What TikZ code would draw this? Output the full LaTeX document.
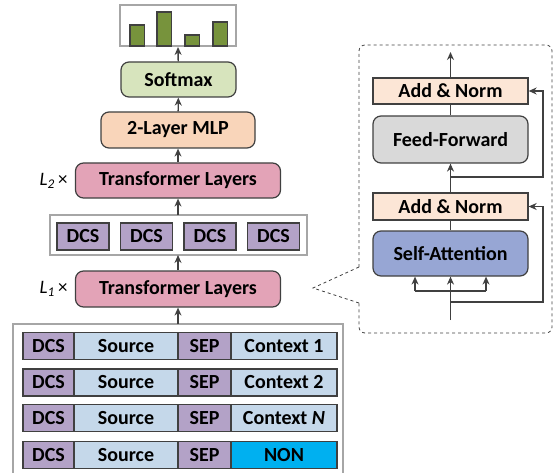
\documentclass[tikz,border=0pt]{standalone}
\usepackage{fontspec}
\setmainfont{Carlito}
\usetikzlibrary{positioning,arrows.meta}

\definecolor{edgegray}{HTML}{404040}
\definecolor{boxgray}{HTML}{A6A6A6}
\definecolor{barolive}{HTML}{77933C}
\definecolor{softgreen}{HTML}{D7E4BD}
\definecolor{mlporange}{HTML}{F9D5BA}
\definecolor{tlpink}{HTML}{E3A3B7}
\definecolor{tokpurple}{HTML}{B3A2C7}
\definecolor{tokblue}{HTML}{C5D8EA}
\definecolor{nonblue}{HTML}{00B0F0}
\definecolor{normpeach}{HTML}{FCE6D6}
\definecolor{ffgray}{HTML}{D9D9D9}
\definecolor{sablue}{HTML}{97A6D4}

\tikzset{
  bigfont/.style={font=\bfseries\fontsize{20}{23}\selectfont},
  layer/.style={draw=edgegray, line width=1.2pt, rounded corners=8pt, inner sep=0pt, bigfont},
  tok/.style={draw=edgegray, line width=1.3pt, inner sep=0pt, minimum height=27pt, bigfont},
  grp/.style={draw=boxgray, line width=1.5pt},
  up/.style={draw=edgegray, line width=1.4pt, -{Stealth[length=8pt,width=7pt]}},
  wire/.style={draw=edgegray, line width=1.4pt}
}

\begin{document}
\begin{tikzpicture}[x=1pt, y=-1pt]
    \useasboundingbox (0,0) rectangle (556,473);

    % output distribution
    \draw[grp] (120,5) rectangle (236,46);
    \foreach \bx/\by in {130/25, 157/12, 185/35, 213/22}
        \draw[draw=edgegray, line width=1.2pt, fill=barolive] (\bx,\by) rectangle ({\bx+14.5},46);
    \coordinate (bars) at (178,47);

    % main stack
    \node[layer, fill=softgreen, minimum width=115pt, minimum height=35pt] (softmax) at (178.5,79.5) {Softmax};
    \node[layer, fill=mlporange, minimum width=154pt, minimum height=36pt] (mlp) at (178,130) {2-Layer MLP};
    \node[layer, fill=tlpink, minimum width=205pt, minimum height=35pt] (tltwo) at (178,180.5) {Transformer Layers};
    \node[anchor=east, font=\fontsize{19}{21}\selectfont] at (71,181) {\textit{L}\textsubscript{\textit{2}}\,×};

    \draw[grp] (50,215) rectangle (307,255);
    \coordinate (dcsgroup) at (178,215);
    \coordinate (dcsbottom) at (178,255);
    \foreach \cx/\nm in {83/a, 146.5/b, 210/c, 273.5/d}
        \node[tok, fill=tokpurple, minimum width=52pt] (dcs\nm) at (\cx,236.5) {DCS};

    \node[layer, fill=tlpink, minimum width=205pt, minimum height=36pt] (tlone) at (178,289) {Transformer Layers};
    \node[anchor=east, font=\fontsize{19}{21}\selectfont] at (71,289) {\textit{L}\textsubscript{\textit{1}}\,×};

    % input sequences
    \draw[grp] (13,324) rectangle (343,490);
    \coordinate (inputs) at (178,324);
    \foreach \ry/\ctx/\ccol/\nm in {346/{Context 1}/tokblue/one, 382.5/{Context 2}/tokblue/two,
                                    418/{Context \textit{N}}/tokblue/three, 455/{NON}/nonblue/four} {
        \node[tok, fill=tokpurple, minimum width=51pt] (dcs\nm) at (48.5,\ry) {DCS};
        \node[tok, fill=tokblue, minimum width=104pt] (src\nm) at (126,\ry) {Source};
        \node[tok, fill=tokpurple, minimum width=53pt] (sep\nm) at (204.5,\ry) {SEP};
        \node[tok, fill=\ccol, minimum width=106pt] (ctx\nm) at (284,\ry) {\ctx};
    }

    \draw[up] (softmax) -- (bars);
    \draw[up] (mlp) -- (softmax);
    \draw[up] (tltwo) -- (mlp);
    \draw[up] (dcsgroup) -- (tltwo);
    \draw[up] (tlone) -- (dcsbottom);
    \draw[up] (inputs) -- (tlone);

    % zoomed transformer layer
    \draw[edgegray, line width=0.8pt, dashed, rounded corners=6pt]
        (359,267) -- (359,45) -- (552,45) -- (552,333) -- (359,333) -- (359,303);
    \draw[edgegray, line width=0.8pt, dashed] (359,267) -- (313,288) -- (359,303);

    \node[tok, fill=normpeach, minimum width=155pt, minimum height=26pt] (normtop) at (450.5,91) {Add \& Norm};
    \node[layer, fill=ffgray, minimum width=155pt, minimum height=47pt] (ffwd) at (450.5,139.5) {Feed-Forward};
    \node[tok, fill=normpeach, minimum width=155pt, minimum height=27pt] (normlow) at (450.5,206.5) {Add \& Norm};
    \node[layer, fill=sablue, minimum width=155pt, minimum height=45pt] (selfatt) at (450.5,253.5) {Self-Attention};

    \coordinate (layerin) at (450.5,320);
    \coordinate (layerout) at (450.5,52);
    \coordinate (splitl) at (415,291);
    \coordinate (splitr) at (486,291);
    \coordinate (resone) at (450.5,302);
    \coordinate (restwo) at (450.5,177);

    \draw[up] (layerin) -- (selfatt.south);
    \draw[wire] (splitl) -- (splitr);
    \draw[up] (splitl) -- (splitl |- selfatt.south);
    \draw[up] (splitr) -- (splitr |- selfatt.south);
    \draw[up] (resone) -- (543,302) |- (normlow.east);
    \draw[wire] (selfatt) -- (normlow);
    \draw[up] (normlow) -- (ffwd);
    \draw[up] (restwo) -- (543,177) |- (normtop.east);
    \draw[wire] (ffwd) -- (normtop);
    \draw[up] (normtop) -- (layerout);
\end{tikzpicture}
\end{document}
